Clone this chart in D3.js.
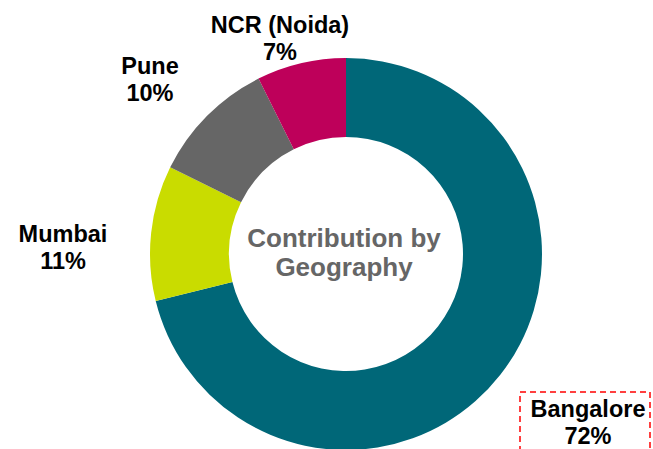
<!DOCTYPE html>
<html>
<head>
<meta charset="utf-8">
<script src="https://cdn.jsdelivr.net/npm/d3@7"></script>
<style>
  html, body { margin: 0; padding: 0; background: #fff; }
  svg text { font-family: "Liberation Sans", Arial, sans-serif; font-weight: bold; }
</style>
</head>
<body>
<div id="chart"></div>
<script>
const regions = ['Bangalore', 'Mumbai', 'Pune', 'NCR (Noida)'];
const shares = [71.5, 11.2, 10.4, 7.4]; // percent, labels show rounded values
const colours = ['#006778', '#C9DC00', '#666666', '#BE005A'];
// label anchor points (centre of first line baseline)
const labelPos = [[588, 417], [63, 242], [150, 74], [280, 33]];

const width = 653, height = 449;
const cx = 346, cy = 254, outerR = 196, innerR = 117;

const svg = d3.select('#chart').append('svg')
    .attr('width', width)
    .attr('height', height);

const pie = d3.pie().sort(null).value(d => d)(shares);
const arc = d3.arc().innerRadius(innerR).outerRadius(outerR);

const g = svg.append('g').attr('transform', `translate(${cx},${cy})`);
g.selectAll('path')
    .data(pie)
    .enter()
    .append('path')
    .attr('d', arc)
    .attr('fill', (d, i) => colours[i]);

// dashed box around Bangalore label
svg.append('rect')
    .attr('x', 520).attr('y', 392)
    .attr('width', 130).attr('height', 70)
    .attr('fill', 'none')
    .attr('stroke', '#FF0000')
    .attr('stroke-width', 1.5)
    .attr('stroke-dasharray', '6,4');

const labels = svg.selectAll('text.lbl')
    .data(regions)
    .enter()
    .append('text')
    .attr('class', 'lbl')
    .attr('text-anchor', 'middle')
    .attr('font-size', 23.5)
    .attr('fill', '#000');

labels.append('tspan')
    .attr('x', (d, i) => labelPos[i][0])
    .attr('y', (d, i) => labelPos[i][1])
    .text(d => d);
labels.append('tspan')
    .attr('x', (d, i) => labelPos[i][0])
    .attr('y', (d, i) => labelPos[i][1] + 27)
    .text((d, i) => Math.round(shares[i]) + '%');

const title = svg.append('text')
    .attr('text-anchor', 'middle')
    .attr('font-size', 26)
    .attr('fill', '#666666');
title.append('tspan').attr('x', 344).attr('y', 247).text('Contribution by');
title.append('tspan').attr('x', 344).attr('y', 276).text('Geography');
</script>
</body>
</html>
